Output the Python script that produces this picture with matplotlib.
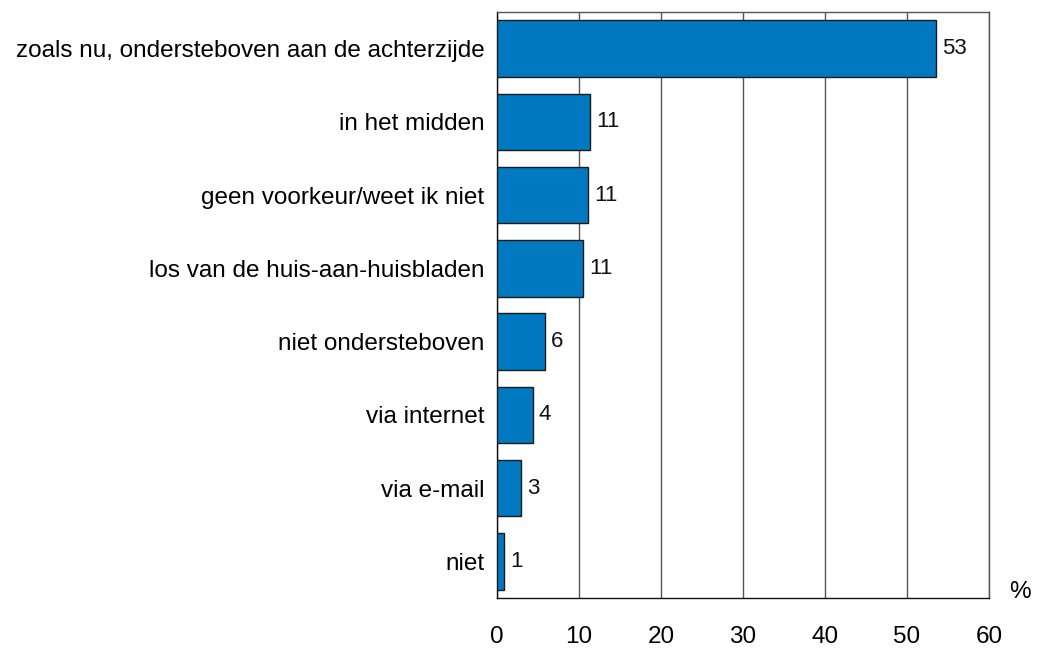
import matplotlib
matplotlib.use("Agg")
import matplotlib.pyplot as plt

categories = ["zoals nu, ondersteboven aan de achterzijde", "in het midden",
              "geen voorkeur/weet ik niet", "los van de huis-aan-huisbladen",
              "niet ondersteboven", "via internet", "via e-mail", "niet"]
values = [53.5, 11.4, 11.05, 10.5, 5.8, 4.35, 2.95, 0.9]
labels = ["53", "11", "11", "11", "6", "4", "3", "1"]
xticks = [0, 10, 20, 30, 40, 50, 60]

plt.rcParams['font.family'] = ['Liberation Sans', 'DejaVu Sans']

fig = plt.figure(figsize=(10.37, 6.51), dpi=100)
ax = fig.add_axes([497/1037, 1-598/651, (989-497)/1037, (598-12)/651])

ypos = list(range(len(categories)))
ax.barh(ypos, values, height=0.77, color='#0079C1', edgecolor='#1a1a1a', linewidth=1.0, zorder=3)
for y, v, t in zip(ypos, values, labels):
    ax.text(v + 0.75, y, t, va='center', ha='left', fontsize=16, color='#111111', zorder=4)

ax.set_xlim(0, 60)
ax.set_ylim(len(categories) - 0.5, -0.5)
ax.set_yticks(ypos)
ax.set_yticklabels(categories, fontsize=17.5)
ax.set_xticks(xticks)
ax.set_xticklabels([str(x) for x in xticks], fontsize=17.5)
ax.tick_params(axis='y', length=0, pad=9)
ax.tick_params(axis='x', length=0, pad=20)
ax.xaxis.grid(True, color='#555555', linewidth=1.0, zorder=0)
ax.set_axisbelow(True)
for s in ['top', 'right']:
    ax.spines[s].set_color('#555555')
for s in ['left', 'bottom']:
    ax.spines[s].set_color('#111111')
for s in ax.spines.values():
    s.set_linewidth(1.0)

fig.text(1020/1037, 1-592/651, "%", fontsize=17.5, ha='center', va='center')

fig.savefig("out.png", dpi=100)
